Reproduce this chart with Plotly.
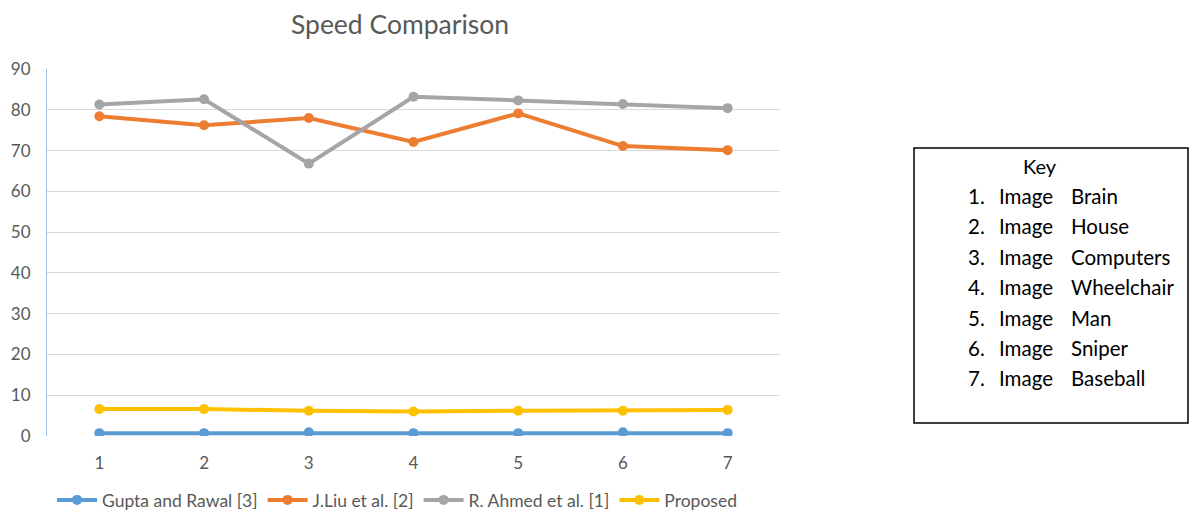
import plotly.graph_objects as go

# Image index along the x axis
images = [1, 2, 3, 4, 5, 6, 7]

# Speed values per method
gupta_rawal = [0.7, 0.7, 0.9, 0.7, 0.7, 0.9, 0.7]
jliu = [78.4, 76.2, 78.0, 72.1, 79.1, 71.1, 70.1]
ahmed = [81.3, 82.6, 66.8, 83.2, 82.3, 81.4, 80.4]
proposed = [6.6, 6.6, 6.2, 6.0, 6.2, 6.2, 6.4]

series_names = ["Gupta and Rawal [3]", "J.Liu et al. [2]", "R. Ahmed et al. [1]", "Proposed"]
series_colors = ["#5B9BD5", "#ED7D31", "#A5A5A5", "#FFC000"]

# Key listing what each index refers to
key_numbers = ["1.", "2.", "3.", "4.", "5.", "6.", "7."]
key_names = ["Brain", "House", "Computers", "Wheelchair", "Man", "Sniper", "Baseball"]

FONT = "Lato, 'Open Sans', sans-serif"
W, H = 1191, 512
L, R, T, B = 47, 411, 69, 76
PW, PH = W - L - R, H - T - B


def px(x):
    return (x - L) / PW


def py(y):
    return (H - B - y) / PH


fig = go.Figure()
for name, vals, col in zip(series_names, [gupta_rawal, jliu, ahmed, proposed], series_colors):
    fig.add_trace(go.Scatter(
        x=images, y=vals, name=name, mode="lines+markers",
        line=dict(color=col, width=4),
        marker=dict(color=col, size=10),
    ))

annotations = [dict(
    text="Key", xref="paper", yref="paper", x=px(1040), y=py(166),
    showarrow=False, xanchor="center", yanchor="middle",
    font=dict(family=FONT, size=20, color="#000000"),
)]
row_y0, row_step = 196, 30.4
for i, (num, nm) in enumerate(zip(key_numbers, key_names)):
    yy = py(row_y0 + i * row_step)
    for txt, xx in ((num, 966), ("Image", 997), (nm, 1069)):
        annotations.append(dict(
            text=txt, xref="paper", yref="paper", x=px(xx), y=yy,
            showarrow=False, xanchor="left", yanchor="middle",
            font=dict(family=FONT, size=20.5, color="#000000"),
        ))

fig.update_layout(
    width=W, height=H,
    margin=dict(l=L, r=R, t=T, b=B, autoexpand=False),
    paper_bgcolor="white", plot_bgcolor="white",
    title=dict(text="Speed Comparison", x=400 / W, xanchor="center",
               xref="container", y=1 - 25 / H, yanchor="middle",
               font=dict(family=FONT, size=26.5, color="#595959")),
    xaxis=dict(range=[0.5, 7.5], tickvals=images, showgrid=False,
               zeroline=False, showline=False, ticks="outside",
               ticklen=12, tickcolor="rgba(0,0,0,0)",
               tickfont=dict(family=FONT, size=17, color="#595959")),
    yaxis=dict(range=[0, 90], dtick=10, showgrid=True, gridcolor="#D9D9D9",
               gridwidth=1, zeroline=False, showline=True,
               linecolor="#9DC3E6", linewidth=1, ticks="outside",
               ticklen=12, tickcolor="rgba(0,0,0,0)",
               tickfont=dict(family=FONT, size=17, color="#595959")),
    legend=dict(orientation="h", x=52 / W, xref="container",
                y=1 - 500 / H, yref="container", xanchor="left",
                yanchor="middle", font=dict(family=FONT, size=17.5, color="#595959"),
                itemwidth=40, tracegroupgap=0),
    showlegend=True,
    annotations=annotations,
    shapes=[dict(type="rect", xref="paper", yref="paper",
                 x0=px(914), x1=px(1188), y0=py(148), y1=py(423),
                 line=dict(color="#000000", width=1.5))],
)

fig.write_html("out.html")
